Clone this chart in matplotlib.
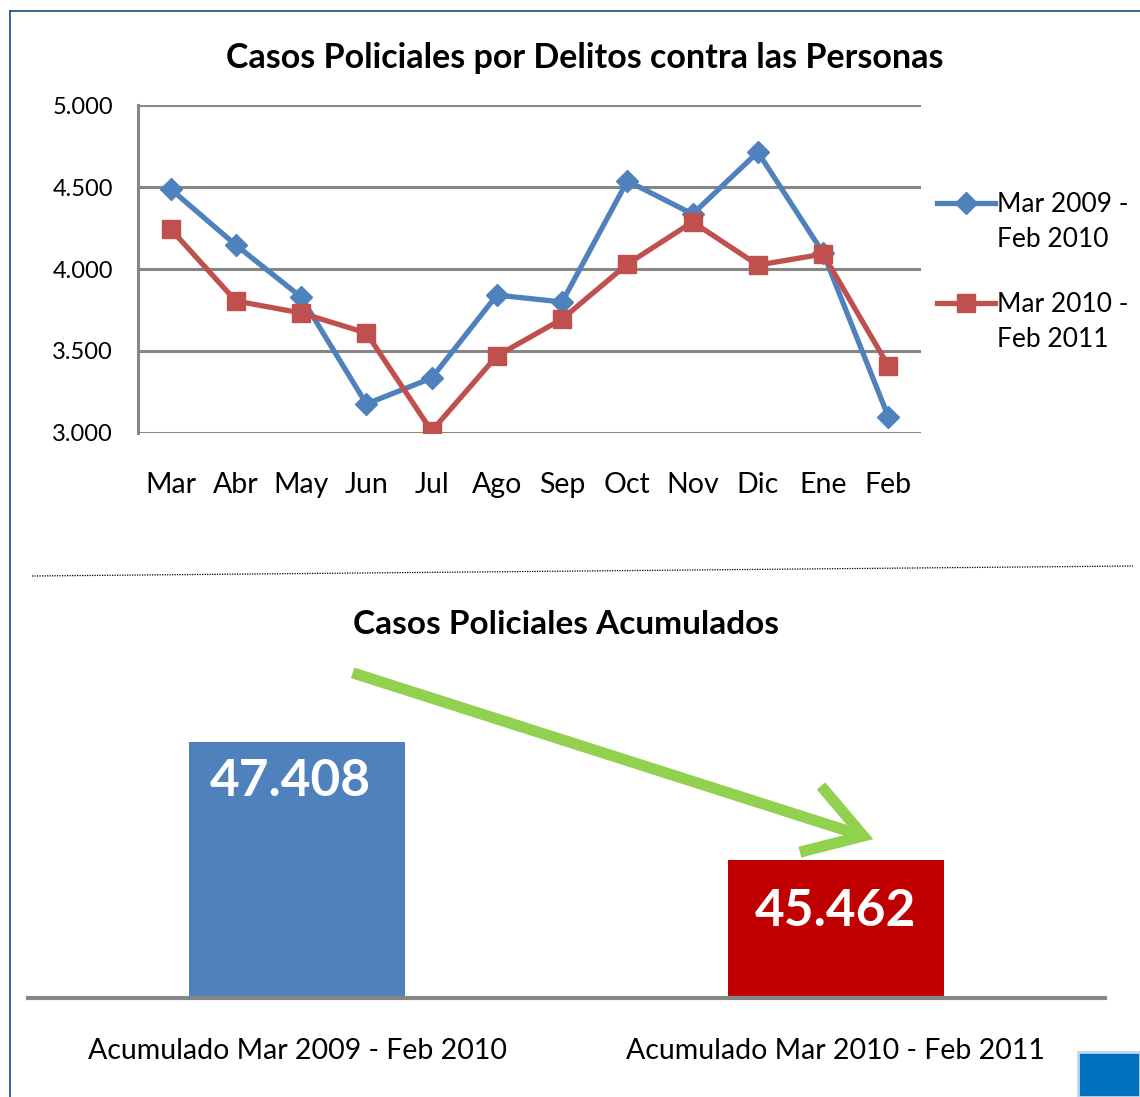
import matplotlib
matplotlib.use('Agg')
import matplotlib.pyplot as plt
from matplotlib.patches import FancyArrowPatch, Rectangle
from matplotlib.lines import Line2D

plt.rcParams['font.family'] = ['Lato', 'DejaVu Sans']

months = ['Mar', 'Abr', 'May', 'Jun', 'Jul', 'Ago', 'Sep', 'Oct', 'Nov', 'Dic', 'Ene', 'Feb']
casos_2009 = [4488, 4146, 3829, 3177, 3335, 3841, 3799, 4537, 4335, 4713, 4098, 3098]
casos_2010 = [4244, 3805, 3732, 3610, 3012, 3470, 3695, 4030, 4287, 4024, 4091, 3409]
series_labels = ['Mar 2009 -\nFeb 2010', 'Mar 2010 -\nFeb 2011']
yticks = [3000, 3500, 4000, 4500, 5000]
ytick_labels = ['3.000', '3.500', '4.000', '4.500', '5.000']

acum_labels = ['Acumulado Mar 2009 - Feb 2010', 'Acumulado Mar 2010 - Feb 2011']
acum_values = [47408, 45462]
acum_text = ['47.408', '45.462']

blue = '#4F81BD'
red = '#C0504D'
grid_gray = '#868686'

W, H = 1140, 1097
fig = plt.figure(figsize=(W / 100, H / 100), dpi=100)


def fx(px):
    return px / W


def fy(py):
    return 1 - py / H


# frame lines of the slide
fig.add_artist(Line2D([fx(10), 1], [fy(11), fy(11)], color='#1F497D', lw=1.2))
fig.add_artist(Line2D([fx(10), fx(10)], [fy(11), 0], color='#1F497D', lw=1.2))

# ---- top chart ----
ax = fig.add_axes([fx(138), fy(433), fx(921) - fx(138), fy(105) - fy(433)])
x = list(range(len(months)))
ax.plot(x, casos_2009, color=blue, lw=3.8, marker='D', ms=11, zorder=3)
ax.plot(x, casos_2010, color=red, lw=3.8, marker='s', ms=13, zorder=4)
ax.set_xlim(-0.5, 11.5)
ax.set_ylim(3000, 5000)
ax.set_yticks(yticks)
ax.set_yticklabels(ytick_labels, fontsize=17)
ax.set_xticks(x)
ax.set_xticklabels(months, fontsize=20.5)
ax.tick_params(length=0)
ax.tick_params(axis='y', pad=18)
ax.tick_params(axis='x', pad=28)
ax.yaxis.grid(True, color=grid_gray, lw=2.2)
ax.set_axisbelow(True)
for s in ['top', 'right', 'bottom']:
    ax.spines[s].set_visible(False)
ax.spines['left'].set_color(grid_gray)
ax.spines['left'].set_linewidth(2.2)
ax.set_title('Casos Policiales por Delitos contra las Personas', fontsize=24.5,
             fontweight='bold', pad=27, x=0.57)

# legend drawn by hand so the key sits on the first text line
for i, (lab, col, mk, ms) in enumerate(zip(series_labels, [blue, red], ['D', 's'], [11, 13])):
    ly = 203 + 100 * i
    fig.add_artist(Line2D([fx(937), fx(995)], [fy(ly), fy(ly)], color=col, lw=3.8))
    fig.add_artist(Line2D([fx(966)], [fy(ly)], color=col, marker=mk, ms=ms))
    fig.text(fx(997), fy(ly - 11), lab, fontsize=19, va='top', ha='left', linespacing=1.48)

# dotted separator
fig.add_artist(Line2D([fx(32), fx(1133)], [fy(576), fy(566)], color='black', lw=0.9,
                      linestyle=(0, (1, 1))))

# ---- bottom chart ----
ax2 = fig.add_axes([fx(28), fy(998), fx(1105) - fx(28), fy(700) - fy(998)])
bars = ax2.bar([0, 1], acum_values, width=0.402, color=[blue, '#C00000'], zorder=2)
ax2.set_xlim(-0.5, 1.5)
ax2.set_ylim(43186, 48102)
ax2.set_yticks([])
ax2.set_xticks([0, 1])
ax2.set_xticklabels(acum_labels, fontsize=20.5)
ax2.tick_params(length=0, pad=29)
for s in ['top', 'right', 'left']:
    ax2.spines[s].set_visible(False)
ax2.spines['bottom'].set_color(grid_gray)
ax2.spines['bottom'].set_linewidth(3)
ax2.patch.set_alpha(0)
for b, t, (dx, dy) in zip(bars, acum_text, [(-7, 39), (0, 51)]):
    ax2.annotate(t, (b.get_x() + b.get_width() / 2, b.get_height()),
                 xytext=(dx * 0.72, -dy * 0.72), textcoords='offset points', color='white',
                 fontsize=37, fontweight='bold', ha='center', va='center')

fig.text(fx(566), fy(625), 'Casos Policiales Acumulados', fontsize=24, fontweight='bold',
         ha='center', va='center')

# green arrow
arrow = FancyArrowPatch((fx(350), fy(672)), (fx(876), fy(840)), transform=fig.transFigure,
                        arrowstyle='->,head_length=2.0,head_width=1.25', color='#92D050',
                        lw=8, mutation_scale=20, capstyle='butt', joinstyle='miter')
fig.add_artist(arrow)

# blue square in the corner
fig.add_artist(Rectangle((fx(1078), 0), fx(1140) - fx(1078), fy(1052), transform=fig.transFigure,
                         facecolor='#0070C0', edgecolor='#BDD7EE', lw=2))

fig.savefig('out.png', dpi=100)
